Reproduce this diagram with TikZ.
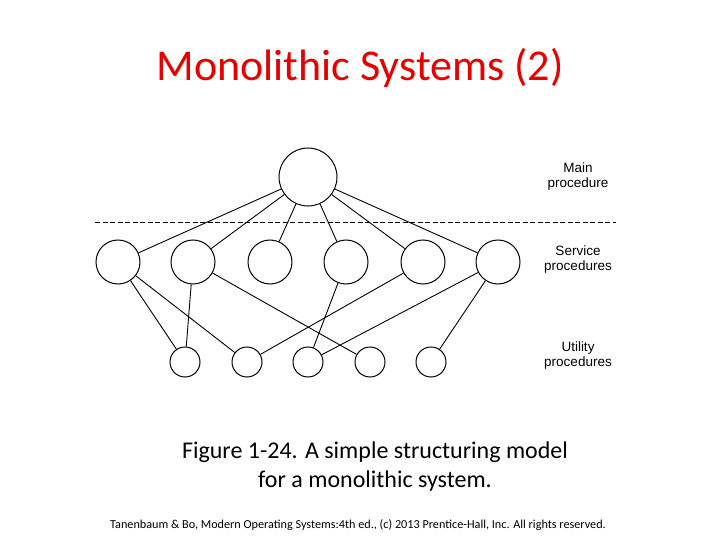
\documentclass[tikz,border=0pt]{standalone}
\usepackage{fontspec}
\setmainfont{Carlito}
\newfontfamily\lab{Liberation Sans}
\definecolor{titlered}{RGB}{230,0,0}
\begin{document}
\begin{tikzpicture}[x=1pt,y=-1pt,
  circ/.style={draw,circle,line width=1pt,inner sep=0pt},
  edge/.style={line width=0.9pt},
  lbl/.style={font=\lab\fontsize{13.5}{15}\selectfont,align=center}]
\useasboundingbox (0,0) rectangle (720,540);
\node[text=titlered,font=\fontsize{44}{48}\selectfont] (title) at (360,68) {Monolithic Systems (2)};
\node[circ,minimum size=58pt] (m) at (308,177) {};
\foreach \i/\x in {1/118,2/193,3/270,4/346,5/423,6/498}
  \node[circ,minimum size=44pt] (s\i) at (\x,262) {};
\foreach \i/\x in {1/185,2/247,3/308,4/370,5/431}
  \node[circ,minimum size=30pt] (u\i) at (\x,362) {};
\coordinate (dl) at (95,222); \coordinate (dr) at (616,222);
\draw[line width=0.9pt,dash pattern=on 5pt off 2.5pt] (dl) -- (dr);
\foreach \i in {1,...,6} \draw[edge] (m) -- (s\i);
\foreach \a/\b in {1/1,1/2,2/1,2/4,4/3,5/2,6/3,6/5} \draw[edge] (s\a) -- (u\b);
\node[lbl] (l1) at (578,177) {Main\\procedure};
\node[lbl] (l2) at (578,260) {Service\\procedures};
\node[lbl] (l3) at (578,356) {Utility\\procedures};
\node[font=\fontsize{24}{29}\selectfont,align=center] (cap) at (375,467) {Figure 1-24. A simple structuring model\\for a monolithic system.};
\node[font=\fontsize{12.2}{13}\selectfont] (foot) at (358,525) {Tanenbaum \& Bo, Modern Operating Systems:4th ed., (c) 2013 Prentice-Hall, Inc. All rights reserved.};
\end{tikzpicture}
\end{document}
